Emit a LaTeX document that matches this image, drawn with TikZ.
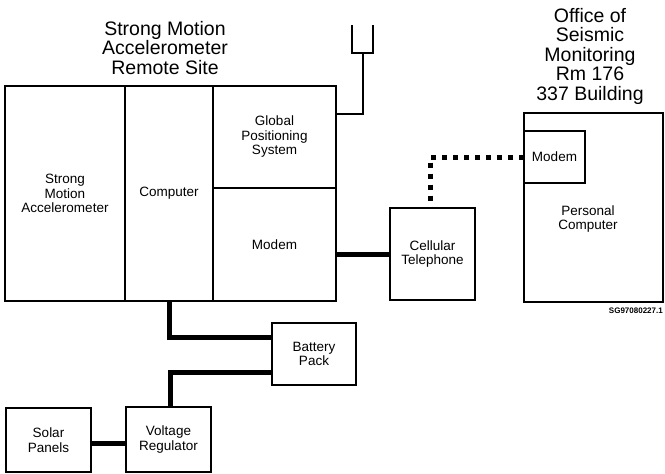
\documentclass[tikz,border=0pt]{standalone}
\usepackage{fontspec}
\setmainfont{Liberation Sans}
\usetikzlibrary{positioning}

\begin{document}
\begin{tikzpicture}[x=1pt, y=-1pt, node distance=0pt,
    every node/.style={font=\fontsize{13.5}{14.5}\selectfont},
    unit/.style={draw, line width=1.3pt, outer sep=0pt, inner sep=2pt, align=center},
    heading/.style={font=\fontsize{19.5}{19.5}\selectfont, align=center},
    wire/.style={line width=1.3pt},
    cable/.style={line width=5pt},
    radio/.style={line width=5pt, dash pattern=on 5pt off 6pt}]
        \useasboundingbox (0,0) rectangle (665,474);
        \node[heading] (sitetitle) at (165,48) {Strong Motion\\Accelerometer\\Remote Site};
        \node[heading] (officetitle) at (590,56) {Office of\\Seismic\\Monitoring\\Rm 176\\337 Building};
        \node[unit, minimum width=120pt, minimum height=215pt, anchor=north west] (sma) at (5,86) {Strong\\Motion\\Accelerometer};
        \node[unit, minimum width=88pt, minimum height=215pt, right=of sma] (comp) {Computer};
        \node[unit, minimum width=123pt, minimum height=102pt, anchor=north west] (gps) at (comp.north east) {Global\\Positioning\\System};
        \node[unit, minimum width=123pt, minimum height=113pt, below=of gps] (modem) {Modem};
        \node[unit, minimum width=85pt, minimum height=92pt, anchor=north west] (cell) at (390,208) {Cellular\\Telephone};
        \node[unit, minimum width=139pt, minimum height=189pt, anchor=north west] (pc) at (524,113) {};
        \node[unit, minimum width=61pt, minimum height=52pt, anchor=north west] (pcmodem) at (pc.north west |- 0,131) {Modem};
        \node[align=center] (pclabel) at (588,219) {Personal\\Computer};
        \node[font=\fontsize{8}{9}\selectfont\bfseries, anchor=east, inner sep=0pt] (tag) at (663,311) {SG97080227.1};
        \node[unit, minimum width=84pt, minimum height=62pt, anchor=north west] (battery) at (272,323) {Battery\\Pack};
        \node[unit, minimum width=85pt, minimum height=65pt, anchor=north west] (vreg) at (126,407) {Voltage\\Regulator};
        \node[unit, minimum width=85pt, minimum height=64pt, anchor=north west] (solar) at (6,408) {Solar\\Panels};
        \coordinate (antfoot) at (363,53);
        \draw[wire] (352,25) |- (373,53) -- (373,25);
        \draw[wire] (antfoot) |- ([yshift=23pt]gps.east);
        \draw[cable] (modem.east |- cell.west) -- (cell.west);
        \draw[radio] (pcmodem.west) -| ([xshift=-2pt]cell.north);
        \draw[cable] (comp.south) |- ([yshift=17pt]battery.west);
        \draw[cable] ([yshift=-18pt]battery.west) -| ([xshift=2pt]vreg.north);
        \draw[cable] ([yshift=-3pt]solar.east) -- ([yshift=-3pt]solar.east -| vreg.west);
      \end{tikzpicture}
\end{document}
